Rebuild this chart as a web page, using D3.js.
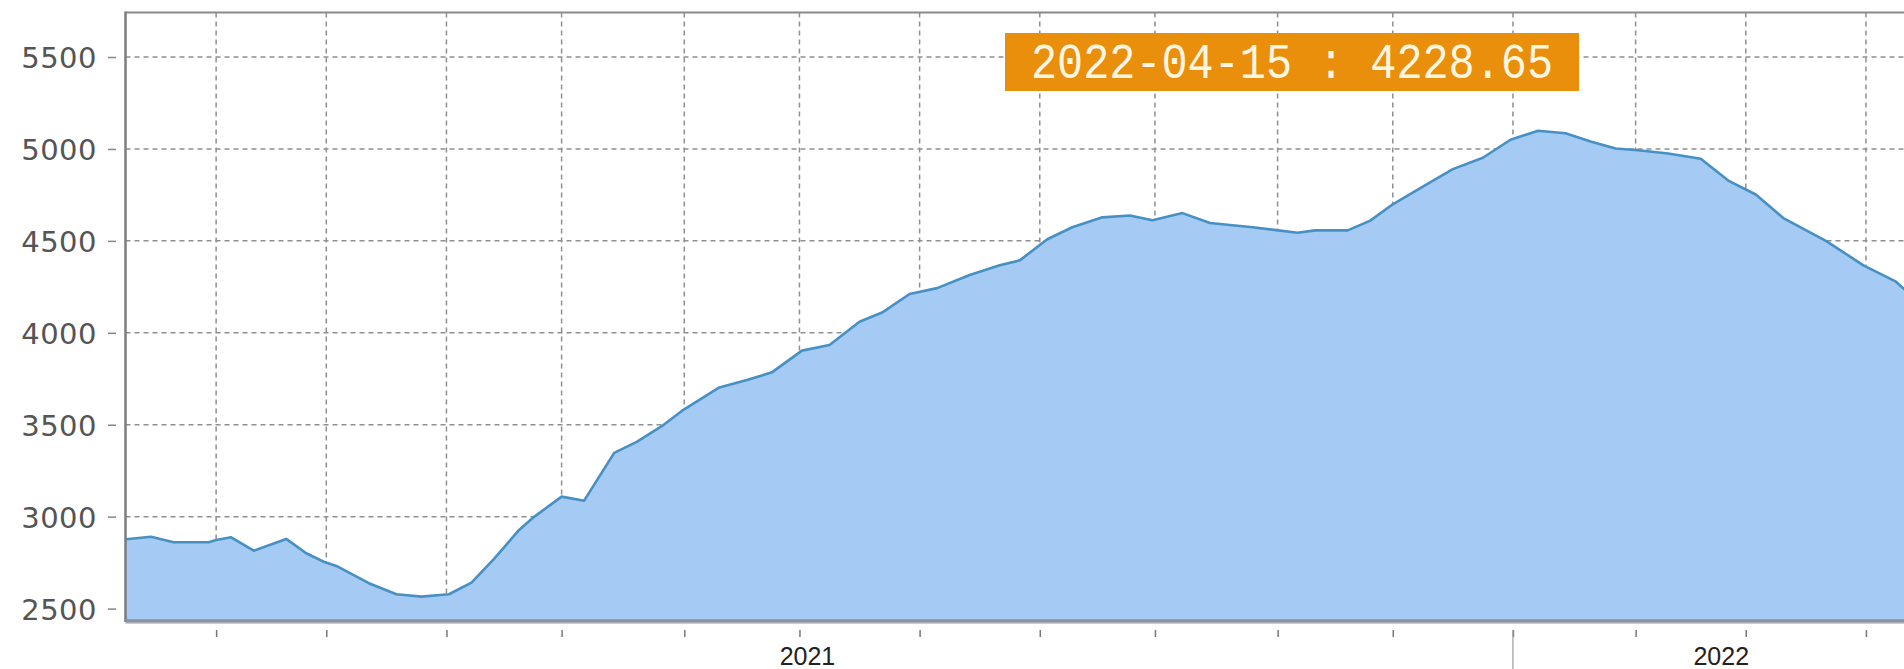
<!DOCTYPE html>
<html><head><meta charset="utf-8">
<script src="https://cdn.jsdelivr.net/npm/d3@7"></script>
<style>html,body{margin:0;padding:0;background:#fff;overflow:hidden}</style>
</head><body>
<svg id="chart" width="1904" height="669"></svg>
<script>
// ---- data ----
const dates = [
  "2020-04-04","2020-04-14","2020-04-23","2020-05-07","2020-05-10","2020-05-16","2020-05-25","2020-06-07",
  "2020-06-15","2020-06-22","2020-06-27","2020-07-10","2020-07-21","2020-07-31","2020-08-11","2020-08-20",
  "2020-08-29","2020-09-08","2020-09-14","2020-09-25","2020-10-04","2020-10-16","2020-10-25","2020-11-04",
  "2020-11-12","2020-11-27","2020-12-08","2020-12-18","2020-12-30","2021-01-10","2021-01-22","2021-01-31",
  "2021-02-11","2021-02-22","2021-03-07","2021-03-19","2021-03-27","2021-04-07","2021-04-17","2021-04-29",
  "2021-05-10","2021-05-19","2021-05-31","2021-06-11","2021-06-28","2021-07-16","2021-07-23","2021-08-05",
  "2021-08-14","2021-08-23","2021-09-04","2021-09-16","2021-09-28","2021-10-09","2021-10-20","2021-10-31",
  "2021-11-10","2021-11-20","2021-11-29","2021-12-11","2021-12-24","2022-01-04","2022-01-15","2022-01-26",
  "2022-02-12","2022-02-27","2022-03-12","2022-03-16"
];
const values = [
  2877,2891,2861,2861,2873,2888,2815,2879,
  2801,2755,2732,2638,2578,2565,2578,2641,
  2770,2928,2999,3109,3087,3347,3407,3492,
  3575,3703,3743,3785,3903,3934,4060,4110,
  4211,4243,4314,4367,4394,4509,4574,4628,
  4638,4612,4651,4597,4574,4544,4557,4557,
  4610,4699,4795,4890,4952,5050,5099,5085,
  5041,5002,4993,4975,4947,4828,4752,4624,
  4500,4367,4278,4228.65
];
const yTicks = [2500,3000,3500,4000,4500,5000,5500];
const xTickDates = [
  "2020-05-10","2020-06-23","2020-08-10","2020-09-25","2020-11-13","2020-12-29","2021-02-15",
  "2021-04-04","2021-05-20","2021-07-08","2021-08-23","2021-10-10","2021-11-28","2022-01-11","2022-02-28"
];
const yearLabelDates = ["2021-01-01","2022-01-01"];
const cursorDate = "2021-10-10";
const tooltipText = "2022-04-15 : 4228.65";
const xDomain = ["2020-04-04","2022-03-16"];
const yDomain = [2438, 5742];

// ---- drawing ----
const parse = d3.timeParse("%Y-%m-%d");
const data = dates.map((d,i)=>({date:parse(d), value:values[i]}));
const svg = d3.select("#chart");
const L = 125.5, T = 12.5, B = 620, R = 1904;

const x = d3.scaleTime().domain(xDomain.map(parse)).range([126, 1906]);
const y = d3.scaleLinear().domain(yDomain).range([B, T]);

// gridlines
const grid = svg.append("g");
grid.selectAll("line.h").data(yTicks).join("line")
  .attr("x1", L).attr("x2", R).attr("y1", d=>y(d)).attr("y2", d=>y(d))
  .attr("stroke", "#8f8f8f").attr("stroke-width", 1.5).attr("stroke-dasharray", "5,4");
grid.selectAll("line.v").data(xTickDates.map(parse)).join("line")
  .attr("x1", d=>x(d)).attr("x2", d=>x(d)).attr("y1", T).attr("y2", B)
  .attr("stroke", "#8f8f8f").attr("stroke-width", 1.5).attr("stroke-dasharray", "5,4");

// area + line
const area = d3.area().x(d=>x(d.date)).y0(B).y1(d=>y(d.value));
const line = d3.line().x(d=>x(d.date)).y(d=>y(d.value));
svg.append("path").datum(data).attr("d", area).attr("fill", "#a5caf4");
svg.append("path").datum(data).attr("d", line).attr("fill", "none")
  .attr("stroke", "#4790c4").attr("stroke-width", 2.6).attr("stroke-linejoin", "round");

// frame
svg.append("line").attr("x1", L).attr("x2", R).attr("y1", T).attr("y2", T)
  .attr("stroke", "#8a8a8a").attr("stroke-width", 2);
svg.append("line").attr("x1", L).attr("x2", L).attr("y1", T-1).attr("y2", B+2)
  .attr("stroke", "#7d7d7d").attr("stroke-width", 2.5);
svg.append("line").attr("x1", L).attr("x2", R).attr("y1", B+1).attr("y2", B+1)
  .attr("stroke", "#8b939c").attr("stroke-width", 3.5);
svg.append("line").attr("x1", L).attr("x2", R).attr("y1", B+3.5).attr("y2", B+3.5)
  .attr("stroke", "#c9ced4").attr("stroke-width", 1);

// y axis
const yAxis = svg.append("g").attr("transform", "translate(116,0)")
  .call(d3.axisLeft(y).tickValues(yTicks).tickSize(8).tickPadding(11).tickFormat(d3.format("d")));
yAxis.select(".domain").remove();
yAxis.selectAll("line").attr("stroke", "#888").attr("stroke-width", 1.5);
yAxis.selectAll("text").attr("fill", "#555")
  .style("font-family", "'DejaVu Sans', Verdana, sans-serif").style("font-size", "29px")
  .style("letter-spacing", "0.5px").attr("dy", "0.36em");

// x axis ticks
const xAxis = svg.append("g").attr("transform", "translate(0,630)")
  .call(d3.axisBottom(x).tickValues(xTickDates.map(parse)).tickSize(7).tickFormat(""));
xAxis.select(".domain").remove();
xAxis.selectAll("line").attr("stroke", "#777").attr("stroke-width", 1.5);

// year labels
const yAx = svg.append("g").attr("transform", "translate(0,630)")
  .call(d3.axisBottom(x).tickValues(yearLabelDates.map(parse)).tickSize(0).tickPadding(17)
    .tickFormat(d3.timeFormat("%Y")));
yAx.select(".domain").remove();
yAx.selectAll("text").attr("fill", "#222")
  .style("font-family", "'Liberation Sans', Arial, sans-serif").style("font-size", "25px");

// cursor line
svg.append("line").attr("x1", x(parse(cursorDate))).attr("x2", x(parse(cursorDate)))
  .attr("y1", 630).attr("y2", 669).attr("stroke", "#9a9a9a").attr("stroke-width", 1.2);

// tooltip label
const tip = svg.append("g").attr("transform", "translate(1005,33)");
tip.append("rect").attr("width", 574).attr("height", 58).attr("fill", "#e98f0c");
tip.append("text").attr("x", 26).attr("y", 44.5).text(tooltipText)
  .attr("fill", "#fff6e2").attr("textLength", 522).attr("lengthAdjust", "spacingAndGlyphs")
  .style("font-family", "'Liberation Mono', monospace").style("font-size", "50px");
</script>
</body></html>
